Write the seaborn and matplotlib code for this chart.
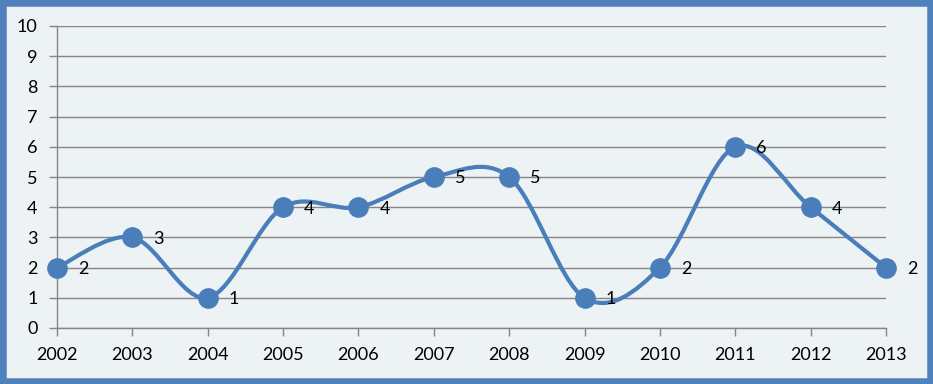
import numpy as np
import matplotlib
matplotlib.use("Agg")
import matplotlib.pyplot as plt
import seaborn as sns
from matplotlib.path import Path
from matplotlib.patches import PathPatch, Rectangle

years = [2002, 2003, 2004, 2005, 2006, 2007, 2008, 2009, 2010, 2011, 2012, 2013]
counts = [2, 3, 1, 4, 4, 5, 5, 1, 2, 6, 4, 2]

line_color = "#4A7EBB"
bg_color = "#EDF2F4"

sns.set_style("white")
plt.rcParams['font.family'] = ['Lato', 'DejaVu Sans']

fig = plt.figure(figsize=(9.33, 3.84), dpi=100, facecolor=bg_color)
ax = fig.add_axes([57 / 933, 56 / 384, 829 / 933, 302 / 384])
ax.set_facecolor(bg_color)

# smoothed line (Excel style, Catmull-Rom as cubic Bezier)
x = np.arange(len(years), dtype=float)
y = np.array(counts, dtype=float)
verts = [(x[0], y[0])]
codes = [Path.MOVETO]
for i in range(len(x) - 1):
    p0 = np.array([x[max(i - 1, 0)], y[max(i - 1, 0)]])
    p1 = np.array([x[i], y[i]])
    p2 = np.array([x[i + 1], y[i + 1]])
    p3 = np.array([x[min(i + 2, len(x) - 1)], y[min(i + 2, len(x) - 1)]])
    c1 = p1 + (p2 - p0) / 6
    c2 = p2 - (p3 - p1) / 6
    verts += [tuple(c1), tuple(c2), tuple(p2)]
    codes += [Path.CURVE4] * 3
ax.add_patch(PathPatch(Path(verts, codes), facecolor="none", edgecolor=line_color,
                       lw=3, zorder=3, clip_on=False))

sns.scatterplot(x=x, y=y, ax=ax, s=190, color=line_color, edgecolor=line_color,
                zorder=4, clip_on=False, legend=False)

for xi, yi in zip(x, counts):
    ax.annotate(str(yi), (xi, yi), xytext=(15, -1), textcoords="offset points",
                ha="left", va="center", fontsize=13, color="black", zorder=5)

ax.set_xlim(0, len(years) - 1)
ax.set_ylim(0, 10)
ax.set_yticks(range(0, 11))
ax.set_xticks(x)
ax.set_xticklabels([str(v) for v in years])
ax.yaxis.grid(True, color="#868686", lw=1)
ax.set_axisbelow(True)
for s in ["top", "right"]:
    ax.spines[s].set_visible(False)
for s in ["left", "bottom"]:
    ax.spines[s].set_color("#868686")
    ax.spines[s].set_linewidth(1)
ax.tick_params(axis="both", which="both", length=6, color="#868686", width=1,
               labelsize=13, labelcolor="black", direction="out", left=True, bottom=True)
ax.tick_params(axis="y", pad=8)
ax.tick_params(axis="x", pad=8)

# blue frame around the chart
fig.patches.append(Rectangle((0, 0), 1, 1, transform=fig.transFigure, fill=False,
                             edgecolor="#4F81BD", lw=9, zorder=10))

fig.savefig("out.png", dpi=100, facecolor=bg_color)
